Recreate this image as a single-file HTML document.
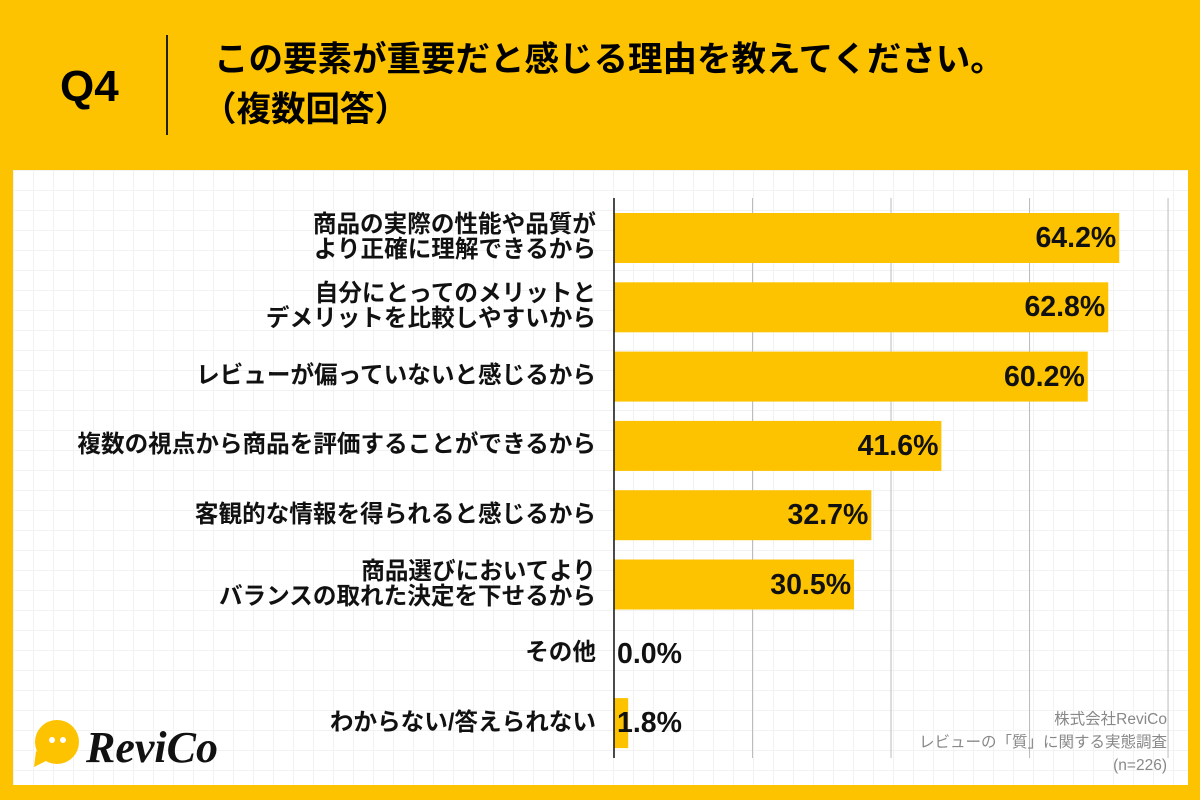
<!DOCTYPE html>
<html><head><meta charset="utf-8"><style>
body{margin:0;width:1200px;height:800px;background:#FDC300;position:relative;overflow:hidden;font-family:"Liberation Sans","Noto Sans CJK JP",sans-serif}
.abs{position:absolute}
#panel{left:13px;top:170px;width:1175px;height:615px;background:#fff;
background-image:linear-gradient(#f2f2f2 1px,transparent 1px),linear-gradient(90deg,#f2f2f2 1px,transparent 1px);background-size:20px 20px}
.lab{position:absolute;right:604px;width:580px;text-align:right;font-weight:bold;font-size:23.6px;line-height:25px;color:#111;white-space:nowrap}
.val{position:absolute;font-weight:bold;font-size:28.5px;color:#111;line-height:30px}
</style></head><body>
<div class="abs" style="left:60px;top:62px;font-size:44px;font-weight:bold">Q4</div>
<div class="abs" style="left:166px;top:35px;width:1.5px;height:100px;background:#222"></div>
<div class="abs" style="left:214px;top:35px;font-size:34.5px;font-weight:bold;line-height:50px;white-space:nowrap">この要素が重要だと感じる理由を教えてください。<br><span style="margin-left:-12px">（複数回答）</span></div>
<div id="panel" class="abs"></div>
<svg class="abs" style="left:0;top:0" width="1200" height="800" id="chart"></svg>
<div id="labels"></div>
<div class="abs" style="right:33px;top:708px;text-align:right;color:#888;font-size:15.5px;line-height:23px">株式会社ReviCo<br>レビューの「質」に関する実態調査<br>(n=226)</div>
<svg class="abs" style="left:30px;top:715px" width="210" height="60">
<circle cx="27" cy="27" r="22" fill="#FDC300"/><path d="M6 36 L4 52 L20 44 Z" fill="#FDC300"/>
<circle cx="22" cy="25" r="3" fill="#fff"/><circle cx="33" cy="25" r="3" fill="#fff"/>
<text x="56" y="47" font-family="Liberation Serif,serif" font-style="italic" font-weight="bold" font-size="44" fill="#111">ReviCo</text>
</svg>
<script>
const categories=[["商品の実際の性能や品質が","より正確に理解できるから"],["自分にとってのメリットと","デメリットを比較しやすいから"],["レビューが偏っていないと感じるから"],["複数の視点から商品を評価することができるから"],["客観的な情報を得られると感じるから"],["商品選びにおいてより","バランスの取れた決定を下せるから"],["その他"],["わからない/答えられない"]];
const values=[64.2,62.8,60.2,41.6,32.7,30.5,0.0,1.8];
const gridTicks=[17.6,35.2,52.8,70.4];
const x0=614,pxPer=7.87,y0=238,step=69.3,bh=50;
const X=v=>x0+v*pxPer, Y=i=>y0+i*step;
const svg=document.getElementById('chart'),NS='http://www.w3.org/2000/svg';
gridTicks.forEach(t=>{const l=document.createElementNS(NS,'line');


l.setAttribute('x1',X(t));l.setAttribute('x2',X(t));l.setAttribute('y1',198);l.setAttribute('y2',758);l.setAttribute('stroke','#bbb');l.setAttribute('stroke-width','1');svg.appendChild(l);});
const L=document.getElementById('labels');
values.forEach((v,i)=>{
const r=document.createElementNS(NS,'rect');


r.setAttribute('x',x0);r.setAttribute('y',Y(i)-bh/2);r.setAttribute('width',v*pxPer);r.setAttribute('height',bh);r.setAttribute('fill','#FDC300');svg.appendChild(r);
const d=document.createElement('div');d.className='val';


d.textContent=v.toFixed(1)+'%';d.style.top=(Y(i)-15)+'px';
if(v>10){d.style.right=(1200-X(v)+3)+'px';}else{d.style.left=(x0+3)+'px';}
L.appendChild(d);
const c=document.createElement('div');c.className='lab';


c.innerHTML=categories[i].join('<br>');c.style.top=(Y(i)-categories[i].length*12.5)+'px';L.appendChild(c);
});
const ax=document.createElementNS(NS,'line');


ax.setAttribute('x1',x0);ax.setAttribute('x2',x0);ax.setAttribute('y1',198);ax.setAttribute('y2',758);ax.setAttribute('stroke','#111');ax.setAttribute('stroke-width','1.5');svg.appendChild(ax);
</script>
</body></html>
